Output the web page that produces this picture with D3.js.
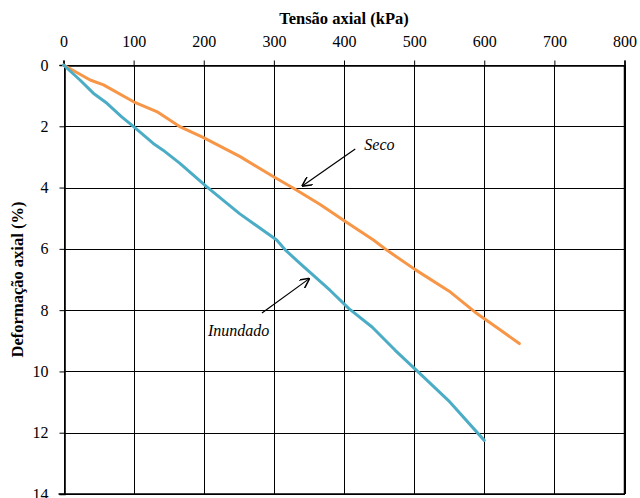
<!DOCTYPE html>
<html>
<head>
<meta charset="utf-8">
<script src="https://cdn.jsdelivr.net/npm/d3@7"></script>
<style>
  html, body { margin: 0; padding: 0; background: #fff; }
  svg { display: block; }
</style>
</head>
<body>
<svg id="chart" width="640" height="498"></svg>
<script>
// Axial stress (kPa) vs axial strain (%) — dry and inundated specimens
const secoStress      = [0, 38, 57, 100, 133, 165, 199, 252, 299, 328, 366, 402, 442, 461, 501, 550, 590, 620, 650];
const secoStrain      = [0, 0.49, 0.65, 1.2, 1.52, 2.0, 2.36, 2.99, 3.64, 4.02, 4.55, 5.11, 5.71, 6.04, 6.67, 7.38, 8.12, 8.6, 9.09];
const inundadoStress  = [0, 23.5, 42.5, 62, 83, 100, 128, 142, 166, 204, 251, 304, 317, 336, 380, 407, 440, 473, 511, 549, 600];
const inundadoStrain  = [0, 0.49, 0.92, 1.25, 1.69, 2.01, 2.56, 2.78, 3.21, 3.97, 4.85, 5.71, 6.05, 6.45, 7.35, 7.95, 8.55, 9.31, 10.13, 10.95, 12.25];
const xTicks = [0, 100, 200, 300, 400, 500, 600, 700, 800];
const yTicks = [0, 2, 4, 6, 8, 10, 12, 14];

// label anchors and arrows, in data units
const secoLabel = { text: "Seco", x: 429, y: 2.77, from: [416, 2.74], to: [341, 3.94] };
const inundadoLabel = { text: "Inundado", x: 206, y: 8.84, from: [283, 8.09], to: [350, 6.98] };

const FONT = "'Liberation Serif', 'Times New Roman', serif";
const svg = d3.select("#chart");
const plot = { left: 63.5, right: 624.5, top: 65, bottom: 494 };

const x = d3.scaleLinear().domain([0, 800]).range([plot.left, plot.right]);
const y = d3.scaleLinear().domain([0, 14]).range([plot.top, plot.bottom]);

// grid
const grid = svg.append("g").attr("stroke", "#000").attr("stroke-width", 1).attr("shape-rendering", "crispEdges");
grid.selectAll("line.v").data(xTicks).join("line")
  .attr("x1", d => Math.round(x(d)) + 0.5).attr("x2", d => Math.round(x(d)) + 0.5)
  .attr("y1", plot.top).attr("y2", plot.bottom);
grid.selectAll("line.h").data(yTicks).join("line")
  .attr("x1", plot.left).attr("x2", plot.right)
  .attr("y1", d => Math.round(y(d)) + 0.5).attr("y2", d => Math.round(y(d)) + 0.5);

// axes (top x axis, left y axis)
const xAxis = d3.axisTop(x).tickValues(xTicks).tickSize(5).tickPadding(14);
const gx = svg.append("g").attr("transform", `translate(0,${Math.round(plot.top) + 0.5})`).call(xAxis);
const yAxis = d3.axisLeft(y).tickValues(yTicks).tickSize(5).tickPadding(11);
const gy = svg.append("g").attr("transform", `translate(${Math.round(plot.left) + 0.5},0)`).call(yAxis);
[gx, gy].forEach(g => {
  g.attr("font-family", null).attr("font-size", null);
  g.select(".domain").attr("stroke", "#000").attr("stroke-width", 1.6);
  g.selectAll(".tick line").attr("stroke", "#000").attr("stroke-width", 1);
  g.selectAll(".tick text").style("font-family", FONT).style("font-size", "16px").attr("fill", "#000");
});
// frame on right and bottom
svg.append("line").attr("x1", plot.right).attr("x2", plot.right).attr("y1", plot.top).attr("y2", plot.bottom)
  .attr("stroke", "#000").attr("stroke-width", 1.5);
svg.append("line").attr("x1", plot.left - 5).attr("x2", plot.right).attr("y1", plot.bottom).attr("y2", plot.bottom)
  .attr("stroke", "#000").attr("stroke-width", 1.5);

// titles
svg.append("text").attr("x", (plot.left + plot.right) / 2).attr("y", 24)
  .attr("text-anchor", "middle").style("font-family", FONT).style("font-weight", "bold").style("font-size", "16.5px")
  .text("Tensão axial (kPa)");
svg.append("text").attr("transform", `translate(23,${(plot.top + plot.bottom) / 2}) rotate(-90)`)
  .attr("text-anchor", "middle").style("font-family", FONT).style("font-weight", "bold").style("font-size", "16.5px")
  .text("Deformação axial (%)");

// curves
const line = d3.line().x(d => x(d[0])).y(d => y(d[1]));
const series = [
  { name: "Seco", color: "#F79646", pts: d3.zip(secoStress, secoStrain) },
  { name: "Inundado", color: "#4BACC6", pts: d3.zip(inundadoStress, inundadoStrain) }
];
svg.append("g").selectAll("path").data(series).join("path")
  .attr("d", d => line(d.pts))
  .attr("fill", "none").attr("stroke", d => d.color).attr("stroke-width", 3)
  .attr("stroke-linejoin", "round").attr("stroke-linecap", "round");

// annotation arrows
svg.append("defs").append("marker")
  .attr("id", "arrow").attr("viewBox", "0 0 10 10").attr("refX", 9).attr("refY", 5)
  .attr("markerWidth", 10).attr("markerHeight", 10).attr("markerUnits", "userSpaceOnUse")
  .attr("orient", "auto")
  .append("path").attr("d", "M0,0 L10,5 L0,10").attr("fill", "none").attr("stroke", "#000").attr("stroke-width", 1.5);

[secoLabel, inundadoLabel].forEach(a => {
  svg.append("line")
    .attr("x1", x(a.from[0])).attr("y1", y(a.from[1]))
    .attr("x2", x(a.to[0])).attr("y2", y(a.to[1]))
    .attr("stroke", "#000").attr("stroke-width", 1.2).attr("marker-end", "url(#arrow)");
  svg.append("text").attr("x", x(a.x)).attr("y", y(a.y))
    .style("font-family", FONT).style("font-style", "italic").style("font-size", "16px").text(a.text);
});
</script>
</body>
</html>
